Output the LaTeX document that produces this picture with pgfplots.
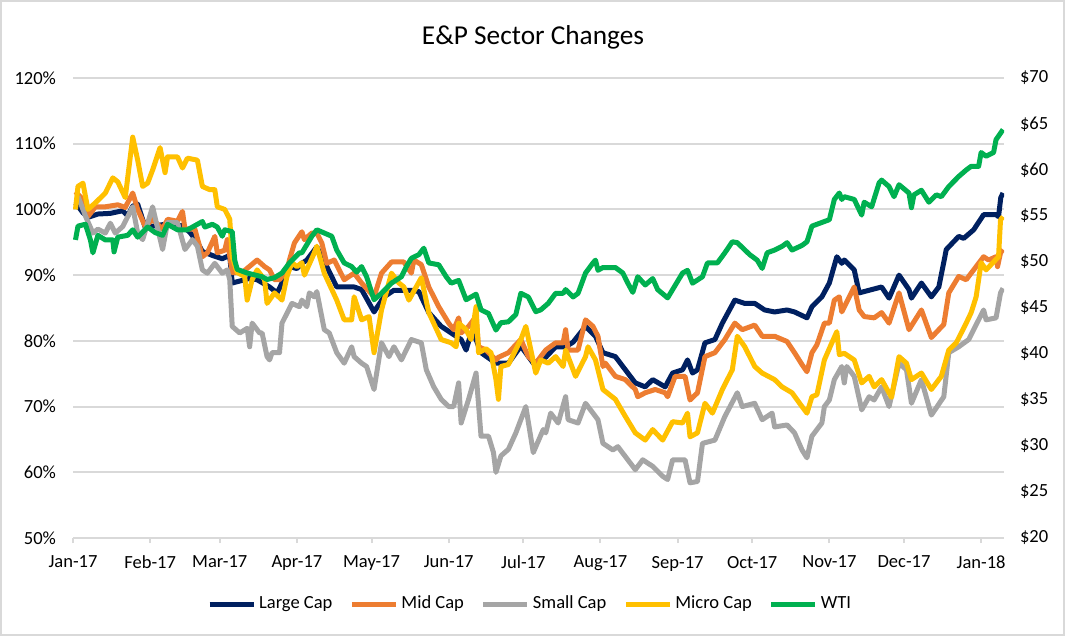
\documentclass[border=0pt]{standalone}
\usepackage{pgfplots}
\pgfplotsset{compat=1.18}
\usepackage{fontspec}
\setmainfont{Carlito}

\definecolor{largecap}{HTML}{002060}
\definecolor{midcap}{HTML}{ED7D31}
\definecolor{smallcap}{HTML}{A5A5A5}
\definecolor{microcap}{HTML}{FFC000}
\definecolor{wti}{HTML}{00B050}
\definecolor{gridgray}{HTML}{D9D9D9}

\pgfplotsset{
  ser/.style={line width=2.5bp, line join=round, mark=none},
  tickfont/.style={font=\fontsize{9.3}{11}\selectfont},
}

\begin{document}
\begin{tikzpicture}
\path[use as bounding box] (-36.5bp,-49bp) rectangle (496bp,269bp);
\draw[gridgray, line width=1bp] (-36bp,-48.5bp) rectangle (495.5bp,268.5bp);

% primary axis: sector indices (% of start)
\begin{axis}[
  at={(0,0)}, anchor=south west,
  scale only axis, width=465.5bp, height=230bp,
  xmin=0, xmax=374.2, ymin=50, ymax=120,
  axis lines*=left, axis line style={-},
  x axis line style={gridgray, line width=1bp},
  y axis line style={draw=none},
  xtick={0,31,59,90,120,151,181,212,243,273,304,334,365},
  xticklabels={Jan-17,Feb-17,Mar-17,Apr-17,May-17,Jun-17,Jul-17,Aug-17,Sep-17,Oct-17,Nov-17,Dec-17,Jan-18},
  ytick={50,60,70,80,90,100,110,120},
  yticklabels={50\%,60\%,70\%,80\%,90\%,100\%,110\%,120\%},
  tick align=outside, major tick length=2.5bp,
  xtick style={gridgray, line width=1bp},
  ytick style={draw=none},
  ymajorgrids, grid style={gridgray, line width=1bp},
  ticklabel style={tickfont, text=black},
  xticklabel style={yshift=-3bp},
  yticklabel style={xshift=-2.5bp},
  legend columns=-1,
  legend style={at={(0.4915,-0.1435)}, anchor=center, draw=none, fill=none,
    font=\fontsize{9.3}{11}\selectfont,
    /tikz/every even column/.append style={column sep=7bp},
    nodes={inner sep=1.5bp}},
  legend image code/.code={\draw[#1] (0bp,0bp) -- (22bp,0bp);},
]
\addplot[ser, largecap] coordinates {
(1,101.0) (4,99.5) (6,98.8) (10,99.3) (15,99.4) (20,99.8) (22,99.0) (24,100.5) (26,100.8)
(29,97.3) (33,97.5) (38,97.8) (44,97.5) (47,96.5) (50,95.0) (52,93.6) (56,93.0) (60,92.5)
(63,93.0) (64,88.8) (66,89.0) (71,89.5) (74,89.3) (79,88.2) (82,87.3) (83,88.0) (87,91.3)
(90,91.0) (92,91.8) (94,92.3) (98,94.3) (102,91.3) (106,88.2) (113,88.2) (116,87.8) (121,84.4)
(125,86.7) (129,87.7) (136,87.7) (139,87.5) (143,84.3) (148,82.2) (152,81.2) (156,80.2) (158,78.6)
(160,81.2) (162,80.2) (164,78.2) (170,76.6) (175,76.6) (180,79.2) (185,76.6) (190,77.5) (194,79.1)
(198,79.1) (201,79.8) (206,82.2) (210,80.7) (213,78.2) (218,77.6) (222,75.6) (226,73.6) (230,73.0)
(233,74.1) (238,73.0) (241,75.1) (245,75.6) (247,77.1) (249,75.1) (251,75.6) (254,79.7) (258,80.2)
(261,82.7) (266,86.2) (270,85.7) (274,85.7) (278,84.7) (282,84.4) (287,84.7) (290,84.4) (295,83.5)
(297,85.2) (301,86.7) (304,88.8) (307,92.8) (309,91.8) (310,92.3) (314,90.8) (316,87.3) (321,87.8)
(325,88.2) (328,86.5) (332,90.0) (336,87.8) (337,86.5) (341,88.8) (345,86.7) (348,88.2) (351,93.9)
(356,95.9) (358,95.6) (362,96.9) (366,99.2) (371,99.2) (372,98.9) (372.9,101.8) (373.8,102.5)
};
\addlegendentry{Large Cap}
\addplot[ser, midcap] coordinates {
(1,102.7) (4,101.5) (6,98.9) (9,100.4) (13,100.4) (18,100.7) (21,100.3) (24,102.5) (26,100.0)
(29,97.4) (32,98.5) (36,97.0) (38,98.5) (42,98.2) (44,99.7) (45,97.0) (49,97.0) (52,92.8)
(54,93.4) (57,95.9) (58,93.4) (61,93.8) (62,95.4) (64,90.4) (68,90.4) (74,92.3) (77,91.3)
(79,90.8) (81,89.3) (83,89.3) (86,90.8) (87,92.3) (89,94.9) (92,96.6) (93,95.4) (96,96.4)
(98,96.4) (100,94.9) (102,91.8) (105,92.3) (109,89.3) (113,90.3) (116,88.8) (121,86.7) (124,90.3)
(128,92.0) (133,92.0) (136,90.3) (137,92.3) (140,91.6) (143,88.2) (147,85.2) (151,82.7) (153,81.7)
(155,83.5) (156,81.2) (159,82.2) (162,83.7) (163,79.1) (166,78.6) (170,77.1) (171,77.5) (175,78.2)
(180,80.2) (183,77.6) (186,76.6) (190,78.6) (194,79.7) (197,79.7) (198,81.7) (199,78.6) (203,78.6)
(206,83.2) (209,82.2) (211,80.7) (213,76.1) (214,76.6) (218,74.6) (222,74.1) (226,72.6) (227,71.5)
(230,72.1) (234,72.6) (238,72.1) (239,71.5) (242,74.6) (246,74.6) (248,71.0) (251,72.1) (254,77.6)
(258,78.2) (262,80.2) (266,82.7) (269,81.7) (274,82.4) (277,80.7) (282,80.7) (287,79.9) (290,78.2)
(293,76.4) (295,75.3) (297,78.2) (299,79.4) (302,82.7) (304,82.7) (306,86.2) (308,86.7) (309,84.4)
(314,88.2) (316,84.7) (318,83.7) (322,83.5) (325,84.3) (328,82.7) (332,87.3) (336,81.7) (341,84.7)
(345,80.5) (350,82.5) (352,87.3) (356,89.8) (359,89.3) (363,91.3) (366,92.8) (368,92.3) (371,92.8)
(371.6,91.3) (372.8,93.4) (373.8,93.9)
};
\addlegendentry{Mid Cap}
\addplot[ser, smallcap] coordinates {
(2,102.0) (5,99.0) (8,96.4) (10,97.0) (13,96.4) (15,97.9) (17,96.4) (20,97.4) (22,98.9)
(24,100.4) (26,96.4) (28,95.4) (32,100.4) (36,93.9) (38,98.0) (42,98.0) (45,93.9) (48,95.4)
(50,94.4) (52,90.8) (54,90.3) (57,91.8) (60,90.3) (62,90.8) (63,89.3) (64,82.2) (67,81.2)
(70,81.9) (71,79.1) (72,82.7) (75,81.2) (76,81.2) (78,77.6) (79,77.1) (80,78.2) (83,78.2)
(84,82.7) (86,84.2) (88,85.7) (91,85.2) (92,86.2) (94,85.2) (95,87.3) (97,86.7) (98,87.5)
(101,81.7) (103,81.2) (106,78.2) (109,76.6) (112,79.1) (113,77.6) (116,76.6) (118,76.1) (121,72.6)
(124,79.7) (127,77.6) (129,79.1) (132,77.1) (136,80.2) (140,79.7) (142,75.6) (145,73.0) (148,71.1)
(151,70.0) (153,70.0) (155,73.6) (156,67.5) (159,71.1) (162,75.1) (164,65.5) (167,65.5) (169,63.0)
(170,60.0) (172,62.5) (175,63.5) (178,66.0) (182,70.0) (185,63.0) (189,66.5) (190,66.0) (192,69.0)
(195,67.5) (198,71.5) (199,68.0) (203,67.5) (206,70.5) (209,69.0) (211,68.0) (213,64.4) (217,63.4)
(219,63.9) (223,61.9) (226,60.4) (229,61.9) (233,60.9) (237,59.4) (239,58.9) (241,61.9) (246,61.9)
(248,58.4) (251,58.6) (253,64.4) (258,64.9) (262,68.5) (267,72.1) (269,70.0) (274,70.5) (277,68.0)
(281,69.0) (282,66.9) (287,67.2) (290,66.0) (293,63.4) (295,62.2) (297,65.5) (301,67.5) (302,70.0)
(304,71.0) (306,74.1) (309,76.1) (310,73.6) (311,76.1) (314,74.6) (317,69.5) (320,71.5) (322,71.0)
(325,73.0) (328,70.0) (332,76.6) (335,75.6) (337,70.5) (341,74.1) (345,68.7) (350,71.5) (352,78.2)
(356,79.1) (360,80.2) (366,84.7) (367,83.2) (371,83.5) (372.8,87.3) (373.8,88.0)
};
\addlegendentry{Small Cap}
\addplot[ser, microcap] coordinates {
(1,100.0) (2,103.5) (4,104.0) (6,100.0) (9,101.0) (13,102.5) (16,104.8) (18,104.2) (21,101.8)
(24,111.0) (26,107.5) (28,103.5) (30,104.0) (32,106.0) (35,109.4) (37,105.6) (38,108.0) (42,108.0)
(44,106.3) (46,107.8) (50,107.5) (52,103.5) (55,103.0) (57,103.0) (58,100.4) (61,100.0) (63,98.5)
(64,92.8) (66,90.4) (69,89.8) (70,86.2) (72,89.3) (74,90.8) (77,89.3) (78,85.7) (81,87.3)
(84,86.2) (86,89.8) (88,91.9) (90,91.3) (92,91.9) (93,90.0) (97,93.4) (98,94.4) (101,90.3)
(106,86.2) (109,83.2) (112,83.2) (113,86.7) (116,83.2) (119,83.7) (121,78.2) (124,84.7) (128,90.3)
(131,88.8) (133,88.2) (135,86.2) (140,89.6) (143,84.3) (148,80.2) (152,79.7) (154,79.1) (155,82.7)
(158,81.7) (160,80.2) (162,85.2) (163,78.2) (166,78.8) (168,78.2) (170,74.1) (171,71.1) (172,76.1)
(175,76.4) (180,80.2) (182,82.2) (186,75.1) (188,77.1) (191,76.6) (194,77.6) (197,76.1) (198,78.6)
(202,74.6) (206,77.6) (207,79.1) (210,77.1) (213,72.6) (218,71.1) (222,68.5) (226,66.0) (230,64.9)
(233,66.5) (237,64.9) (241,67.7) (245,67.5) (247,69.0) (248,65.4) (251,66.0) (254,70.5) (257,69.0)
(261,72.6) (265,75.6) (267,80.7) (270,79.1) (274,76.1) (277,75.1) (282,74.1) (285,73.0) (289,72.1)
(293,70.0) (295,69.0) (297,71.5) (299,71.8) (302,77.1) (305,79.7) (307,81.4) (308,77.9) (310,78.1)
(314,77.1) (317,73.6) (320,74.6) (322,73.0) (325,74.1) (329,71.4) (332,77.6) (335,76.6) (337,74.1)
(341,75.1) (345,72.6) (349,74.6) (352,78.6) (355,79.7) (359,82.7) (361,84.3) (363,86.7) (365,91.9)
(367,90.8) (370,92.0) (372,92.8) (372.8,98.4) (373.8,98.9)
};
\addlegendentry{Micro Cap}
\addlegendimage{ser, wti}
\addlegendentry{WTI}
\end{axis}

% secondary axis: WTI crude price
\begin{axis}[
  at={(0,0)}, anchor=south west,
  scale only axis, width=465.5bp, height=230bp,
  xmin=0, xmax=374.2, ymin=20, ymax=70,
  axis x line=none, axis y line*=right, axis line style={-},
  y axis line style={draw=none},
  ytick={20,25,30,35,40,45,50,55,60,65,70},
  yticklabels={\$20,\$25,\$30,\$35,\$40,\$45,\$50,\$55,\$60,\$65,\$70},
  ytick style={draw=none},
  ticklabel style={tickfont, text=black},
  yticklabel style={xshift=4.5bp},
]
\addplot[ser, wti] coordinates {
(1,52.4) (2,53.9) (5,54.1) (7,52.4) (8,51.0) (10,52.9) (13,52.4) (16,52.4) (16.5,51.1)
(18,52.7) (22,52.9) (24,53.5) (26,52.7) (30,53.8) (33,53.2) (36,52.9) (38,54.1) (42,53.5)
(46,53.5) (52,54.4) (53,53.8) (56,54.1) (58,53.8) (60,52.8) (61,53.5) (64,53.3) (65,50.2)
(66,49.2) (70,48.8) (73,48.6) (76,48.4) (78,48.1) (81,48.3) (84,48.8) (87,49.9) (91,51.0)
(92,51.0) (96,52.8) (98,53.5) (104,52.8) (106,51.3) (109,49.9) (112,49.5) (114,48.9) (116,49.5)
(118,48.4) (121,45.9) (124,46.6) (128,47.7) (132,48.4) (134,49.5) (136,50.4) (139,50.8) (141,51.5)
(143,49.9) (147,49.7) (150,48.4) (152,47.7) (155,48.0) (158,45.9) (160,46.2) (162,46.5) (164,44.8)
(167,44.4) (170,42.6) (172,43.4) (175,43.5) (178,44.3) (180,46.6) (183,46.2) (186,44.6) (188,44.8)
(191,45.5) (194,46.6) (197,46.6) (198,47.0) (201,46.2) (203,46.6) (206,48.8) (209,49.9) (210,50.2)
(211,49.1) (213,49.4) (218,49.4) (221,48.8) (223,47.7) (225,46.7) (227,48.4) (230,47.5) (233,48.2)
(235,47.0) (239,46.1) (241,47.0) (245,48.8) (247,49.1) (249,47.7) (253,48.4) (255,49.9) (259,49.9)
(262,51.0) (265,52.2) (267,52.1) (272,50.8) (275,50.2) (277,49.3) (279,51.0) (282,51.3) (285,51.7)
(287,52.1) (289,51.3) (293,51.8) (295,52.2) (297,53.9) (301,54.3) (304,54.6) (306,56.8) (308,57.5)
(309,56.8) (310,57.1) (314,56.8) (317,55.1) (318,56.5) (321,56.0) (324,58.6) (325,58.9) (328,58.2)
(330,57.1) (332,58.4) (336,57.5) (337,55.9) (338,57.3) (341,57.8) (344,56.5) (347,57.3) (349,57.1)
(352,58.2) (356,59.3) (359,60.0) (361,60.4) (364,60.4) (365,61.9) (367,61.5) (370,61.9) (371,63.3)
(372.8,64.0) (373.8,64.4)
};
\end{axis}

\node[font=\fontsize{13.7}{16}\selectfont] at (230bp,250.5bp) {E\&P Sector Changes};
\end{tikzpicture}
\end{document}
